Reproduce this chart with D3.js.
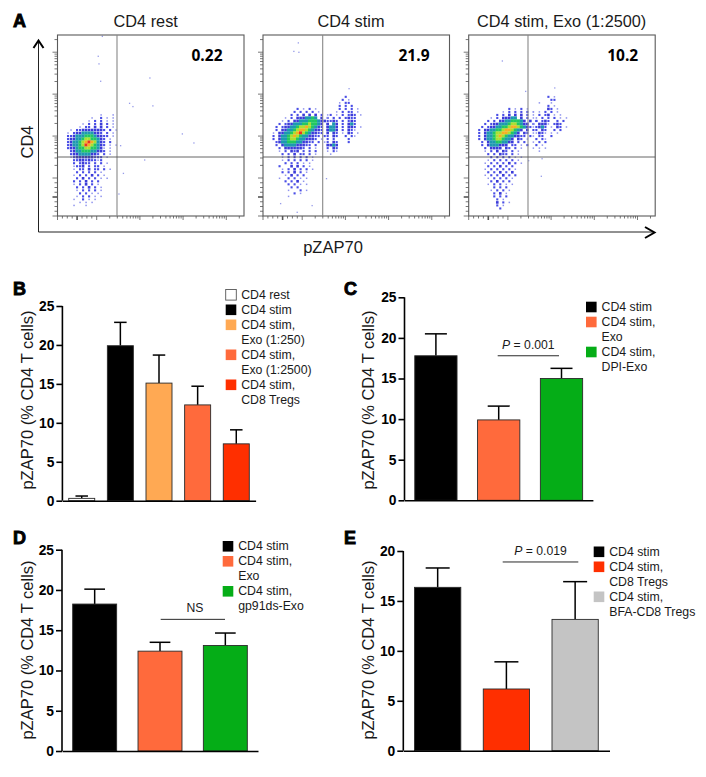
<!DOCTYPE html>
<html><head><meta charset="utf-8">
<script src="https://cdn.jsdelivr.net/npm/d3@7/dist/d3.min.js"></script>
<style>
html,body{margin:0;padding:0;background:#fff}
svg{display:block}
text{font-family:"Liberation Sans",Arial,sans-serif;fill:#1a1a1a}
</style></head><body>
<svg id="c" width="706" height="777"></svg>
<script>
// ---------- Panel A data ----------
const flowTitles = ["CD4 rest","CD4 stim","CD4 stim, Exo (1:2500)"];
const flowValues = ["0.22","21.9","10.2"];
const densityRest = [
"","","","",
"..............1...1..",
"...........1..2.1.1..",
"..........1.2.2.1.1..",
"........1.2.2.3.2.1..",
".......1.22.3.3.2.1..",
"....1.2233333332.2.1.",
"...1.2334444332.2.1..",
"...22344455543322.1..",
"...2334456655432.1...",
"...2344567876432.2...",
"...2344568765432.1.1.",
"...2334556655431.1...",
"....234455544332.1...",
"....2334444332.2.1...",
"....12333333222.1....",
".....2233232212......",
".....2.2322.2.2.1....",
".....1223.2.22.1.....",
".....1.22.3.22.2.1...",
"......2.2.2.2.1",
".....1.2.2.3.2.1",
"......2.3.2.2.1.1",
".....2.2.3.2.2",
".....1.2.3.2.1",
"......2.2.3.2.1",
"......1.2.2.2.1",
".......2.2.1.1",
"......1.2.2.1.1",
".....1..2.1.1",
".......1.1.1",
".....1...1"];
const densityStimLeft = [
"","","","","","","",
".........2.1.2.1",
"........2.2.2.2.1",
".......2.2.3.3.3.2.1",
".....1.2.3334454.3.2.1",
"....1.2.33444555433.2",
"...2.2334445565543.2",
"..2.23344566765432.2",
"..2.33445677654332.2",
".1.334456786543322.1",
".2.34456765443322.2",
".2.3445665443332.1",
"..2344555443322.2.1",
"..2.3444433322.2",
"...2.3333332.2.1",
"...1.2.323.2.2.2",
"....2.2.3.22.2.1",
"....1.2.2.2.2.1",
"....1.2.2.2.2.1",
".....2.2.2.1.1",
"...2...3.3.2.1",
"....1.2.3.2.2.1",
"....2.2.3.2.1",
".....1.3.2.2",
"...1..2.2.1.1",
".....2.2.3.1",
"......2.2.1.1",
".......2.2",
"......1...2.1",
"........2.1",
"......1"];
const densityStimRight = [
"","","",
".......2..",
"......2.1.",
".....1.22.",
".....2.2.2",
".....2.2.2.1",
"....1.2.22.1",
"..2.1.2.232.1",
".1.2.2.2322.",
".2.32.2.232.",
".3.43.2.342..",
".3443.2.332.1",
".3443.2.321",
".3.32.1.32.1",
".2.32..2.21",
".2.2....2.",
".2.32...2.",
".3343....",
".2.32",
".1.21",
"..1"];
const densityExoLeft = [
"","","","","","","",
"...........2.1.2.1",
".........1.2.2.2.2.1",
".......2.2.3.3.3.2.1",
".....1.2.33344.3.2.1",
"....2.2.334455543.3.2",
"...2.2334445665433.2",
"..2.233445567765432.2",
".2.3344556776543.3.2",
".2.344566776543.32.1",
".2.34456765443322.2",
".2.3445665443.32.1",
"..2.344554433.2.2",
"..2.3444333.22.1.2",
"...2.3333.32.2.1",
"...1.2.3.32.2.1",
"....2.2.322.2.1",
".....2.2.2.2.1.1",
"....1.2.2.2.2.1",
"...1.2.2.2.3.2.1",
"....2.2.3.2.2",
"...1.2.2.2.2.1",
"....2.2.3.2.3",
"...1.2.2.3.2.2",
"....1.2.2.2.1",
".....2.3.2.2",
"....1.2.2.1.1",
"......2.2.2",
".....1.2.2.1",
"......2.3.1",
"......2.2.2",
".......2.1",
".......3.2.1",
".......2.1",
"........2"];
const densityExoRight = [
"","","",
"......2.1",
".......22",
"...1...1",
"......2.1",
"......32.1",
".1.1.2.2.1",
"...2.23.1.1",
"..1.2.2.2.1.1",
"..2.232..2.2",
".1.3331.232",
".1.342.1.32.1",
"..2.32..2.2.",
"..1321.1.1",
".1.22..2",
"..2.21",
".1.2.2",
"..2.1",
".1.1.1",
"...1"];
const outliersRest = [[215,886],[219,844],[228,748],[492,766],[383,626],[401,608],[508,612],[666,457],[728,407],[335,392],[464,313],[350,239],[326,125],[237,996]];
const outliersStim = [[186,960],[162,913],[189,908],[458,707],[260,61],[91,72],[180,24],[337,210]];
const outliersExo = [[177,860],[458,711],[302,692],[390,320],[386,223],[318,309]];
// each plot: list of [table, first column, first row]
const flowTables = [
  [[densityRest,0,22]],
  [[densityStimLeft,2,17],[densityStimRight,20,17]],
  [[densityExoLeft,2,17],[densityExoRight,20,17]]
];
const outlierLists = [outliersRest,outliersStim,outliersExo];
const densityColors = ["#ffffff","#8f93ee","#4a4ee6","#3a3ad8","#1f9ab0","#22c860","#a8e030","#f5b020","#ee3020"];

// ---------- Bar panel data ----------
const catsB = ["CD4 rest","CD4 stim","Exo 1:250","Exo 1:2500","CD8 Tregs"];
const valsB = [0.3,19.9,15.1,12.3,7.3];
const errB  = [0.6,22.9,18.7,14.7,9.1];
const colsB = ["#ffffff","#000000","#ffa953","#ff6a3c","#ff2f00"];
const catsC = ["CD4 stim","Exo","DPI-Exo"];
const valsC = [17.8,9.9,15.0];
const errC  = [20.5,11.6,16.25];
const colsC = ["#000000","#ff6a3c","#05ad17"];
const catsD = ["CD4 stim","Exo","gp91ds-Exo"];
const valsD = [18.25,12.4,13.1];
const errD  = [20.1,13.5,14.65];
const colsD = ["#000000","#ff6a3c","#05ad17"];
const catsE = ["CD4 stim","CD8 Tregs","BFA-CD8 Tregs"];
const valsE = [16.36,6.18,13.15];
const errE  = [18.3,8.9,16.93];
const colsE = ["#000000","#ff2f00","#c4c4c4"];
const legendB = [["CD4 rest"],["CD4 stim"],["CD4 stim,","Exo (1:250)"],["CD4 stim,","Exo (1:2500)"],["CD4 stim,","CD8 Tregs"]];
const legendC = [["CD4 stim"],["CD4 stim,","Exo"],["CD4 stim,","DPI-Exo"]];
const legendD = [["CD4 stim"],["CD4 stim,","Exo"],["CD4 stim,","gp91ds-Exo"]];
const legendE = [["CD4 stim"],["CD4 stim,","CD8 Tregs"],["CD4 stim,","BFA-CD8 Tregs"]];
const ticks25 = [0,5,10,15,20,25];
const ticks20 = [0,5,10,15,20];
const yTitle = "pZAP70 (% CD4 T cells)";

const svg = d3.select("#c");
const defs = svg.append("defs");
defs.append("filter").attr("id","soft").append("feGaussianBlur").attr("stdDeviation",0.4);

function label(t,x,y){
  svg.append("text").attr("x",x).attr("y",y).text(t)
    .style("font-size","18px").style("font-weight",700).style("stroke","#000").style("stroke-width",0.9).style("fill","#000");
}
[["A",13,27],["B",13,295],["C",344,295],["D",13,544],["E",344,544]].forEach(d=>label(...d));

// ---------- Panel A ----------
const flowLefts = [57.5,263,468.7];
const flowW = 186.5, flowTop = 35, flowBottom = 216, crossBase = 157;
const flowCenters = [145.7,351,561.7], valCenters = [207,414,622.7];
const dotSize = {1:1.5,2:2.1,3:2.6};
flowTitles.forEach((title,i)=>{
  const L = flowLefts[i];
  const g = svg.append("g");
  const col = d3.scaleBand().domain(d3.range(62)).range([L,L+flowW]);
  const row = d3.scaleBand().domain(d3.range(60)).range([flowTop,flowBottom]);
  const cells = [];
  flowTables[i].forEach(([table,c0,r0])=>table.forEach((s,r)=>{
    for(let c=0;c<s.length;c++){ if(s[c]!=="."){cells.push({c:c+c0,r:r+r0,v:+s[c]});} }
  }));
  const size = d => dotSize[d.v] || col.bandwidth()+.2;
  g.append("g").attr("filter","url(#soft)").selectAll("rect").data(cells).join("rect")
    .attr("x",d=>col(d.c)+(col.bandwidth()-size(d))/2).attr("y",d=>row(d.r)+(col.bandwidth()-size(d))/2)
    .attr("width",size).attr("height",size)
    .attr("fill",d=>densityColors[d.v]);
  const px = d3.scaleLinear().domain([0,1000]).range([L,L+flowW]);
  const py = d3.scaleLinear().domain([0,1000]).range([flowBottom,flowTop]);
  g.selectAll("rect.o").data(outlierLists[i]).join("rect").attr("class","o")
    .attr("x",d=>px(d[0])).attr("y",d=>py(d[1])).attr("width",1.3).attr("height",1.3).attr("fill","#6a70e0").attr("opacity",.7);
  // frame
  g.append("rect").attr("x",L).attr("y",flowTop).attr("width",flowW).attr("height",flowBottom-flowTop)
    .attr("fill","none").attr("stroke","#5a5a5a").attr("stroke-width",1.1);
  // logicle ticks
  const logY = d3.scaleLog().domain([100,Math.pow(10,5.41)]).range([178,flowTop]);
  const linY = d3.scaleLinear().domain([-100,100]).range([flowBottom,178]);
  const logX = d3.scaleLog().domain([100,Math.pow(10,5.41)]).range([L+39.2,L+flowW]);
  const linX = d3.scaleLinear().domain([-100,100]).range([L,L+39.2]);
  const isMajor = v => Math.abs(Math.log10(v)%1)<1e-6;
  const tk = g.append("g").attr("stroke","#555").attr("stroke-width",.8);
  const tys = logY.ticks(10).map(v=>({p:logY(v),m:isMajor(v)})).concat([-100,-75,-50,-25,0,25,50,75].map(v=>({p:linY(v),m:v===0||v===-100,h:v===0})));
  tk.selectAll("line.y").data(tys).join("line").attr("class","y")
    .attr("x1",d=>L-(d.m?5:3)).attr("x2",L).attr("y1",d=>d.p).attr("y2",d=>d.p).attr("stroke-width",d=>d.h?1.6:.8);
  const txs = logX.ticks(10).map(v=>({p:logX(v),m:isMajor(v)})).concat([-100,-75,-50,-25,0,25,50,75].map(v=>({p:linX(v),m:v===0||v===-100,h:v===0})));
  tk.selectAll("line.x").data(txs).join("line").attr("class","x")
    .attr("y1",flowBottom).attr("y2",d=>flowBottom+(d.m?4:2.5)).attr("x1",d=>d.p).attr("x2",d=>d.p).attr("stroke-width",d=>d.h?1.6:.8);
  // gates
  const gx = L + (i===0?59.5:i===1?59.7:59.3);
  g.append("line").attr("x1",gx).attr("x2",gx).attr("y1",flowTop).attr("y2",flowBottom).attr("stroke","#888").attr("stroke-width",1.1);
  g.append("line").attr("x1",L).attr("x2",L+flowW).attr("y1",crossBase).attr("y2",crossBase).attr("stroke","#555").attr("stroke-width",.9);
  svg.append("text").attr("x",flowCenters[i]).attr("y",27.3).attr("text-anchor","middle").style("font-size","16.3px").text(title);
  svg.append("text").attr("x",valCenters[i]).attr("y",60.7).attr("text-anchor","middle")
    .style("font-family","'Open Sans'").style("font-weight",700).style("font-size","15.5px").style("fill","#000").text(flowValues[i]);
});
// big arrows
svg.append("path").attr("d","M38.5,42V232H654").attr("fill","none").attr("stroke","#222").attr("stroke-width",1);
svg.append("path").attr("d","M33.5,48L38.5,40.5L43.5,48").attr("fill","none").attr("stroke","#000").attr("stroke-width",2);
svg.append("path").attr("d","M645,227L654.5,232.5L645,238").attr("fill","none").attr("stroke","#000").attr("stroke-width",2);
svg.append("text").attr("transform","translate(33,142) rotate(-90)").attr("text-anchor","middle").style("font-size","16.5px").text("CD4");
svg.append("text").attr("x",333).attr("y",253).attr("text-anchor","middle").style("font-size","16.5px").text("pZAP70");

// ---------- Bars ----------
function barPanel(o){
  const g = svg.append("g");
  const x = d3.scaleBand().domain(o.cats).range([o.x0,o.x1]).paddingInner(.327).paddingOuter(.1635);
  const y = d3.scaleLinear().domain([0,o.max]).range([o.y0,o.yTop]);
  const bw = x.bandwidth();
  o.cats.forEach((c,i)=>{
    const cx = x(c)+bw/2;
    g.append("line").attr("x1",cx).attr("x2",cx).attr("y1",y(o.vals[i])).attr("y2",y(o.errs[i])).attr("stroke","#000").attr("stroke-width",1.5);
    g.append("line").attr("x1",cx-o.cap/2).attr("x2",cx+o.cap/2).attr("y1",y(o.errs[i])).attr("y2",y(o.errs[i])).attr("stroke","#000").attr("stroke-width",1.5);
    g.append("rect").attr("x",x(c)).attr("y",y(o.vals[i])).attr("width",bw).attr("height",o.y0-y(o.vals[i]))
      .attr("fill",o.cols[i]).attr("stroke","#2a2a2a").attr("stroke-width",.9);
  });
  const ax = g.append("g").attr("transform",`translate(${o.x0},0)`)
    .call(d3.axisLeft(y).tickValues(o.ticks).tickSize(6).tickPadding(2).tickFormat(d3.format("d")));
  ax.selectAll("text").style("font-size","13.8px").style("font-weight",700).style("font-family","'Liberation Sans'").style("fill","#000");
  ax.selectAll("line").attr("stroke","#000").attr("stroke-width",1.6);
  ax.select(".domain").attr("stroke","#000").attr("stroke-width",1.6).attr("d",`M0,${o.y0}V${o.yTop}`);
  const bx = g.append("g").attr("transform",`translate(0,${o.y0})`)
    .call(d3.axisBottom(x).tickSize(0).tickFormat(""));
  bx.select(".domain").attr("stroke","#000").attr("stroke-width",1.6);
  svg.append("text").attr("transform",`translate(${o.titleX},${o.titleY}) rotate(-90)`).attr("text-anchor","middle")
    .style("font-size","16.5px").text(yTitle);
  // legend
  let li=0;
  o.legend.forEach((lines,i)=>{
    const sw = g.append("rect").attr("x",o.lx).attr("y",o.ly+o.lh*li-8.5).attr("width",10.6).attr("height",10.6)
      .attr("fill",o.cols[i]);
    if(o.cols[i]==="#ffffff") sw.attr("stroke","#555").attr("stroke-width",.9);
    lines.forEach(t=>{
      svg.append("text").attr("x",o.lx+15.5).attr("y",o.ly+o.lh*li+.8).style("font-size","12.3px").text(t);
      li++;
    });
  });
  // significance
  if(o.sig){
    const s=o.sig;
    g.append("line").attr("x1",s.x1).attr("x2",s.x2).attr("y1",y(s.v)).attr("y2",y(s.v)).attr("stroke","#111").attr("stroke-width",.9);
    const t = svg.append("text").attr("x",(s.x1+s.x2)/2+(s.dx||0)).attr("y",y(s.v)-s.up).attr("text-anchor","middle").style("font-size","12.2px");
    if(s.p){ t.append("tspan").style("font-style","italic").text("P"); t.append("tspan").text(" = "+s.p); }
    else t.text(s.text);
  }
}
barPanel({cats:catsB,vals:valsB,errs:errB,cols:colsB,x0:62.4,x1:255.6,y0:500.7,yTop:306,max:25,cap:12.5,ticks:ticks25,legend:legendB,lx:225.7,ly:298,lh:15,titleX:33,titleY:400});
barPanel({cats:catsC,vals:valsC,errs:errC,cols:colsC,x0:404.5,x1:592.9,y0:500.3,yTop:297.3,max:25,cap:22,ticks:ticks25,legend:legendC,lx:586,ly:310.2,lh:15,titleX:374,titleY:400,
  sig:{x1:497.7,x2:559,v:17.8,up:7,p:"0.001"}});
barPanel({cats:catsD,vals:valsD,errs:errD,cols:colsD,x0:62,x1:258,y0:751,yTop:549.7,max:25,cap:20.7,ticks:ticks25,legend:legendD,lx:222.7,ly:549.5,lh:15,titleX:33,titleY:650,
  sig:{x1:160.7,x2:225,v:16.35,up:7.5,text:"NS",dx:2}});
barPanel({cats:catsE,vals:valsE,errs:errE,cols:colsE,x0:403.3,x1:609.5,y0:750.7,yTop:551,max:20,cap:24,ticks:ticks20,legend:legendE,lx:593.7,ly:555,lh:15,titleX:374,titleY:650,
  sig:{x1:502.7,x2:578.3,v:18.9,up:6.5,p:"0.019"}});
</script>
</body></html>
